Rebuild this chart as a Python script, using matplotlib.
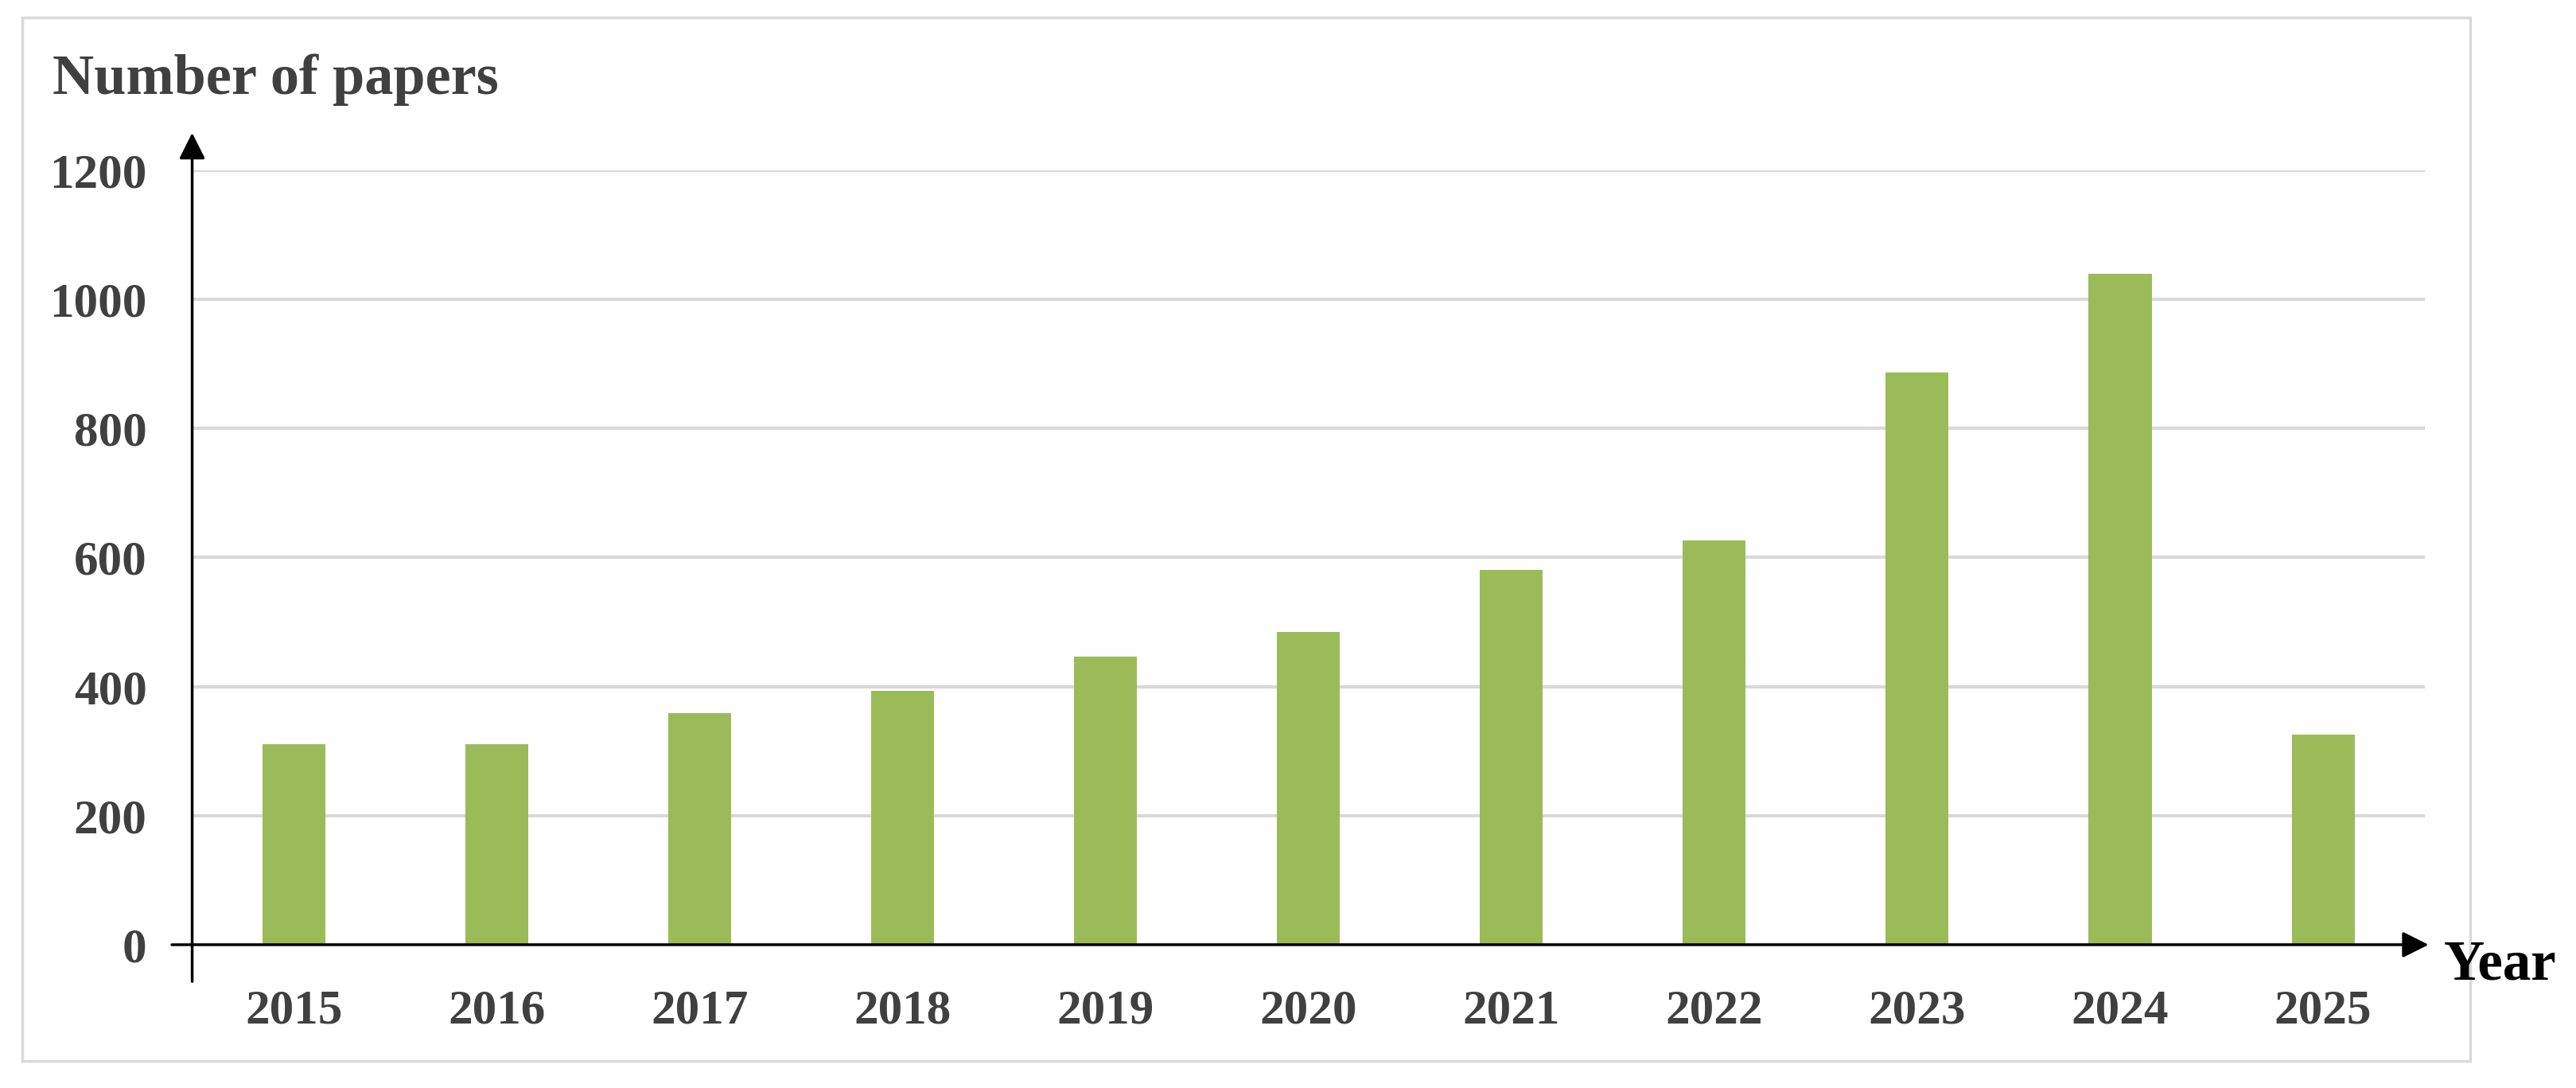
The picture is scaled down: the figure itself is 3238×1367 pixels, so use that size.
import matplotlib.pyplot as plt
from matplotlib.patches import Rectangle

# data
years = ['2015', '2016', '2017', '2018', '2019', '2020', '2021', '2022', '2023', '2024', '2025']
papers = [311, 311, 359, 393, 446, 485, 581, 626, 887, 1040, 326]
y_ticks = [0, 200, 400, 600, 800, 1000, 1200]

plt.rcParams['font.family'] = ['Liberation Serif', 'DejaVu Serif']
plt.rcParams['font.weight'] = 'bold'

fig = plt.figure(figsize=(32.38, 13.67), dpi=100)
ax = fig.add_axes([0.0746, 0.1317, 0.8666, 0.7118])

# light grey frame around the whole chart
fig.patches.append(Rectangle((0.0087, 0.0249), 0.9503, 0.959, transform=fig.transFigure,
                             fill=False, edgecolor='#D9D9D9', linewidth=2.5))

x = list(range(len(years)))
ax.bar(x, papers, width=0.31, color='#9BBB59', zorder=3)

ax.set_xlim(-0.5, 10.5)
ax.set_ylim(0, 1200)
ax.set_yticks(y_ticks)
ax.set_xticks(x)
ax.set_xticklabels(years)
ax.tick_params(axis='both', length=0, labelsize=44, colors='#404040')
ax.tick_params(axis='y', pad=41)
ax.tick_params(axis='x', pad=40)
for lab in ax.get_xticklabels() + ax.get_yticklabels():
    lab.set_fontweight('bold')

ax.grid(axis='y', color='#D9D9D9', linewidth=3, zorder=0)
for s in ax.spines.values():
    s.set_visible(False)

# axis arrows
ax.annotate('', xy=(-0.5, 1258), xytext=(-0.5, -57), xycoords='data',
            arrowprops=dict(arrowstyle='-|>', color='black', lw=2.5, mutation_scale=50,
                            shrinkA=0, shrinkB=0), annotation_clip=False, zorder=5)
ax.annotate('', xy=(10.52, 0), xytext=(-0.6, 0), xycoords='data',
            arrowprops=dict(arrowstyle='-|>', color='black', lw=2.5, mutation_scale=50,
                            shrinkA=0, shrinkB=0), annotation_clip=False, zorder=5)

fig.text(0.0204, 0.9137, 'Number of papers', fontsize=52, fontweight='bold',
         color='#404040', va='baseline', ha='left')
fig.text(0.9488, 0.1002, 'Year', fontsize=51, fontweight='bold',
         color='black', va='baseline', ha='left')

plt.savefig('out.png', dpi=100)
